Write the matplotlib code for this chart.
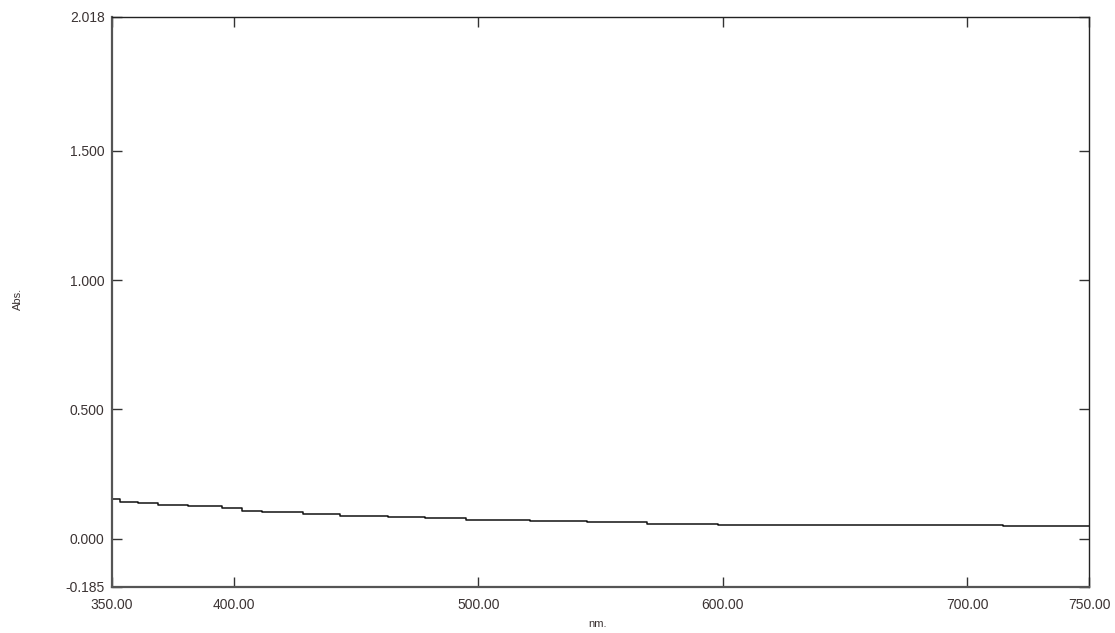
import numpy as np
import matplotlib
matplotlib.use("Agg")
import matplotlib.pyplot as plt

plt.rcParams['font.family'] = ['Liberation Sans', 'DejaVu Sans']

# stepped spectrum (breakpoints, nm / Abs.)
wavelength = [350.0, 353.5, 360.8, 369.0, 381.3, 395.2, 403.4, 411.6, 428.3,
              443.5, 463.1, 478.2, 495.0, 521.2, 544.5, 569.0, 598.1, 697.0,
              714.6, 750.0]
absorb = [0.154, 0.143, 0.137, 0.131, 0.126, 0.119, 0.109, 0.102, 0.095,
          0.089, 0.085, 0.082, 0.074, 0.069, 0.065, 0.057, 0.054, 0.053,
          0.050, 0.050]

xticks = [350, 400, 500, 600, 700, 750]
yticks = [-0.185, 0.0, 0.5, 1.0, 1.5, 2.018]
txt = '#3b3333'

fig = plt.figure(figsize=(11.15, 6.33), dpi=100)
ax = fig.add_axes([0.1, 0.0731, 0.877, 0.9005])

ax.plot(wavelength, absorb, drawstyle='steps-post', color='#111111', lw=1.1)

ax.set_xlim(350, 750)
ax.set_ylim(-0.185, 2.018)
ax.set_xticks(xticks)
ax.set_xticklabels(['%.2f' % v for v in xticks])
ax.set_yticks(yticks)
ax.set_yticklabels(['%.3f' % v for v in yticks])

ax.tick_params(direction='in', length=7, width=1, colors='#333333',
               labelcolor=txt, labelsize=10, top=True, right=True)
ax.tick_params(axis='x', pad=8)
ax.tick_params(axis='y', pad=5)

for s in ['left', 'bottom']:
    ax.spines[s].set_color('#555555')
    ax.spines[s].set_linewidth(1.6)
for s in ['top', 'right']:
    ax.spines[s].set_color('#222222')
    ax.spines[s].set_linewidth(1.0)

fig.text(0.0165, 0.527, 'Abs.', rotation=90, ha='center', va='center',
         fontsize=8, color=txt)
fig.text(0.536, 0.0145, 'nm.', ha='center', va='center', fontsize=8, color=txt)

fig.savefig('out.png', dpi=100)
